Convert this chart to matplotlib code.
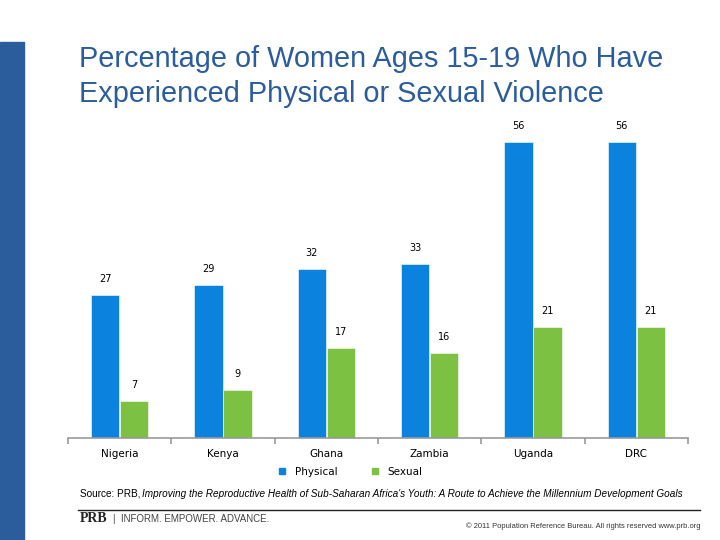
import numpy as np
import matplotlib.pyplot as plt
from matplotlib.patches import Rectangle
from matplotlib.lines import Line2D

countries = ["Nigeria", "Kenya", "Ghana", "Zambia", "Uganda", "DRC"]
physical = [27, 29, 32, 33, 56, 56]
sexual = [7, 9, 17, 16, 21, 21]

blue = "#0a82de"
green = "#7dc142"
navy = "#2b5c9b"

fig = plt.figure(figsize=(7.2, 5.4), dpi=100)

# left stripe
fig.patches.append(Rectangle((0, 0), 24 / 720, 498 / 540, transform=fig.transFigure,
                             color=navy, zorder=0))

fig.text(79 / 720, 1 - 59 / 540, "Percentage of Women Ages 15-19 Who Have",
         fontsize=20.8, color=navy, family="Liberation Sans", va="center")
fig.text(79 / 720, 1 - 94 / 540, "Experienced Physical or Sexual Violence",
         fontsize=20.8, color=navy, family="Liberation Sans", va="center")

ax = fig.add_axes([68 / 720, 102 / 540, 620 / 720, 317 / 540])
x = np.arange(len(countries))
w = 0.275
b1 = ax.bar(x - 0.14, physical, w, color=blue, edgecolor="white", linewidth=0.4)
b2 = ax.bar(x + 0.14, sexual, w, color=green, edgecolor="white", linewidth=0.4)
for bars, vals in ((b1, physical), (b2, sexual)):
    for r, v in zip(bars, vals):
        ax.annotate(str(v), (r.get_x() + r.get_width() / 2, v), xytext=(0, 8),
                    textcoords="offset points", ha="center", va="bottom",
                    fontsize=7, family="DejaVu Sans")

ax.set_xlim(-0.5, 5.5)
ax.set_ylim(0, 60)
ax.set_yticks([])
for s in ["top", "right", "left"]:
    ax.spines[s].set_visible(False)
ax.spines["bottom"].set_color("#999999")
ax.spines["bottom"].set_linewidth(1.2)
ax.set_xticks(np.arange(-0.5, 6, 1))
ax.set_xticklabels([])
ax.set_xticks(x, minor=True)
ax.set_xticklabels(countries, minor=True, fontsize=7.5, family="DejaVu Sans")
ax.tick_params(axis="x", which="major", length=4, color="#999999", width=1.2)
ax.tick_params(axis="x", which="minor", length=0, pad=8)

handles = [Line2D([], [], marker="s", ls="", color=blue, markersize=4),
           Line2D([], [], marker="s", ls="", color=green, markersize=4)]
fig.legend(handles, ["Physical", "Sexual"], loc="center", ncol=2,
           bbox_to_anchor=(347 / 720, 1 - 472 / 540), frameon=False,
           handletextpad=0.2, columnspacing=2.6,
           prop={"family": "DejaVu Sans", "size": 7.5})

fig.text(80 / 720, 1 - 494 / 540, "Source: PRB, ", fontsize=7.2, family="Liberation Sans",
         va="center")
fig.text(142 / 720, 1 - 494 / 540,
         "Improving the Reproductive Health of Sub-Saharan Africa's Youth: A Route to Achieve the Millennium Development Goals",
         fontsize=7.2, style="italic", family="Liberation Sans", va="center")

fig.add_artist(Line2D([78 / 720, 700 / 720], [1 - 510 / 540, 1 - 510 / 540],
                      color="#222222", lw=1))
fig.text(80 / 720, 1 - 519 / 540, "PRB", fontsize=10, weight="bold",
         family="Liberation Serif", va="center", color="#222222")
fig.text(113 / 720, 1 - 519 / 540, "|  INFORM. EMPOWER. ADVANCE.", fontsize=7,
         family="Liberation Sans", va="center", color="#444444")
fig.text(700 / 720, 1 - 526 / 540,
         "\u00a9 2011 Population Reference Bureau. All rights reserved www.prb.org",
         fontsize=5.4, family="Liberation Sans", va="center", ha="right", color="#333333")

fig.savefig("out.png", dpi=100)
